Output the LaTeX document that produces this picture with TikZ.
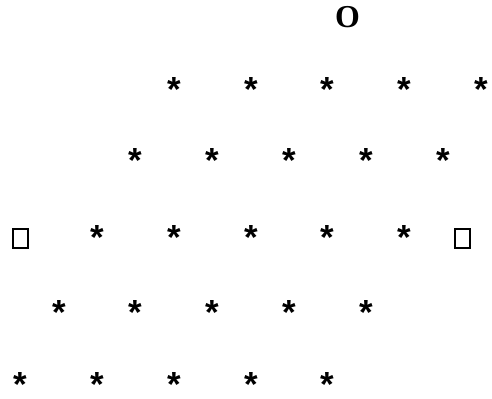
\documentclass[tikz,border=0pt]{standalone}
\usepackage{fontspec}
\setmainfont{Liberation Serif}
\newfontfamily\starfont{Liberation Sans}
\begin{document}
\begin{tikzpicture}[x=1bp,y=-1bp,
  asteriskmark/.style={font=\starfont\bfseries\fontsize{35}{35}\selectfont, anchor=base, inner sep=0pt},
  omark/.style={font=\bfseries\fontsize{32}{32}\selectfont, anchor=base, inner sep=0pt},
  boxmark/.style={draw, line width=1.8bp, minimum width=14.5bp, minimum height=18.5bp, inner sep=0pt}]
\useasboundingbox (0,0) rectangle (492,398);
\node[omark] (o) at (347.5,27.5) {O};
% rows: y centre and first column index
\foreach \r/\yy/\s in {1/87/4, 2/158/3, 3/235/2, 4/310/1, 5/382/0} {
  \foreach \k in {0,...,4} {
    \pgfmathsetmacro{\xx}{20.5+38.4*(\s+2*\k)}
    \node[asteriskmark] (s-\r-\k) at (\xx,\yy+14) {*};
  }
}
\node[boxmark] (bl) at (20.5,238.5) {};
\node[boxmark] (br) at (462.5,238.5) {};
\end{tikzpicture}
\end{document}
